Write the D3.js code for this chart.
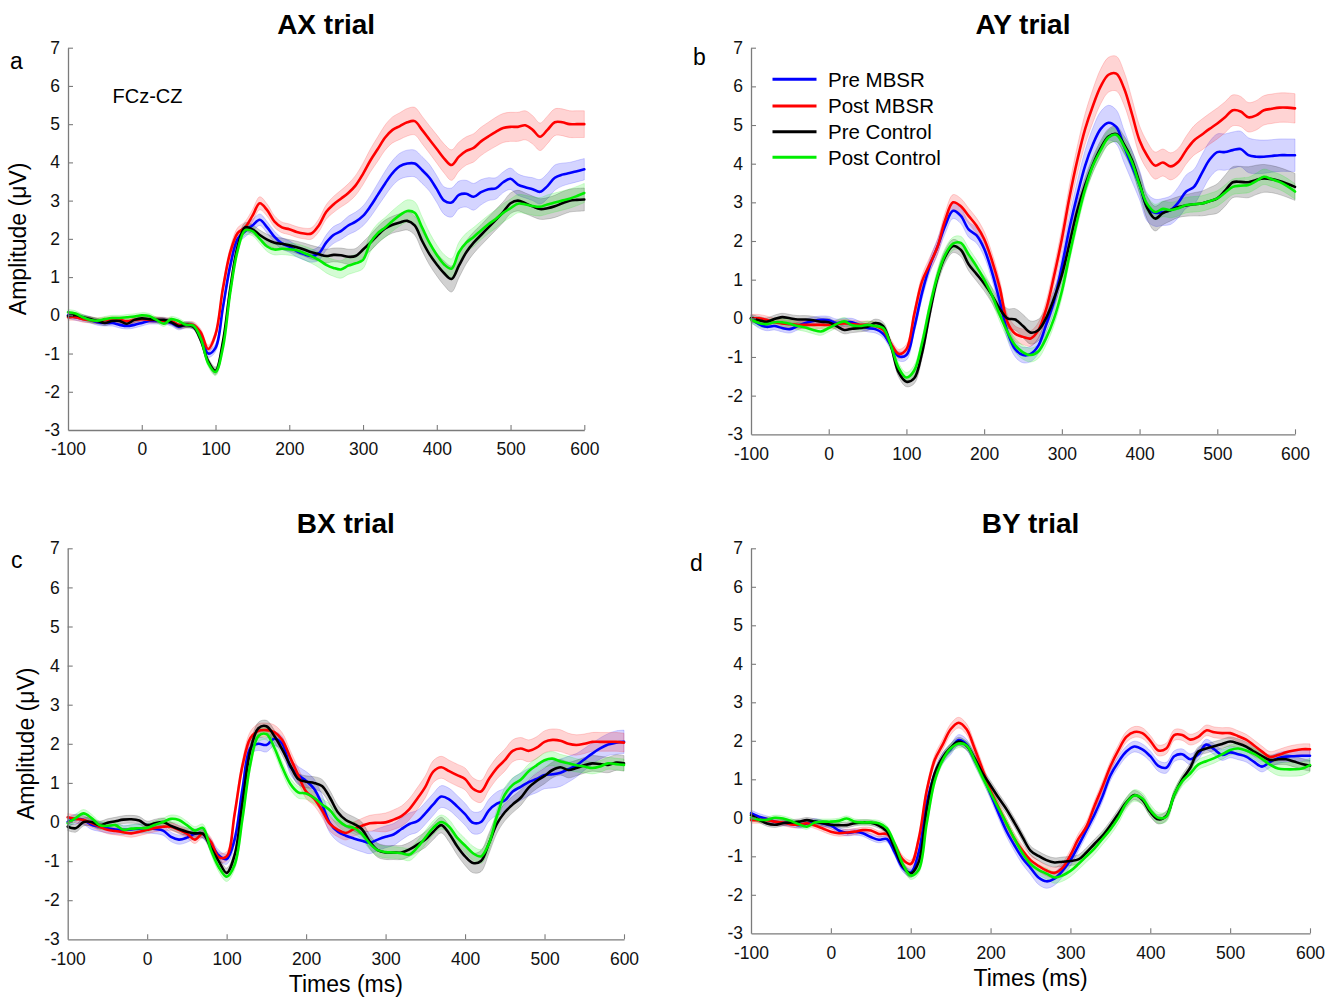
<!DOCTYPE html>
<html><head><meta charset="utf-8">
<script src="https://cdn.jsdelivr.net/npm/d3@7"></script>
<style>body{margin:0;background:#fff} svg{display:block}</style>
</head><body><svg id="chart" width="1338" height="998"></svg>
<script>
// ---------------- DATA ----------------
const times = [-100,-90,-80,-70,-60,-50,-40,-30,-20,-10,
  0,10,20,30,40,50,60,70,80,90,
  100,110,120,130,140,150,160,170,180,190,
  200,210,220,230,240,250,260,270,280,290,
  300,310,320,330,340,350,360,370,380,390,
  400,410,420,430,440,450,460,470,480,490,
  500,510,520,530,540,550,560,570,580,590,
  600];
const xTicks = [-100,0,100,200,300,400,500,600];
const yTicks = [-3,-2,-1,0,1,2,3,4,5,6,7];
const seriesNames = ["Pre MBSR","Post MBSR","Pre Control","Post Control"];
const seriesColors = ["#0000ff","#ff0000","#000000","#00ee00"];
const panelTitles = ["AX trial","AY trial","BX trial","BY trial"];
const panelLetters = ["a","b","c","d"];

// AX trial
const axPre = [0.0,-0.05,-0.08,-0.12,-0.18,-0.2,-0.2,-0.25,-0.28,-0.25,
 -0.2,-0.15,-0.15,-0.15,-0.2,-0.3,-0.25,-0.28,-0.5,-1.0,
 -0.85,0.2,1.3,2.0,2.2,2.35,2.5,2.3,2.05,1.88,
 1.8,1.68,1.6,1.55,1.62,1.9,2.1,2.2,2.35,2.45,
 2.6,2.85,3.15,3.45,3.72,3.9,3.97,3.97,3.8,3.6,
 3.3,3.0,2.95,3.15,3.18,3.1,3.22,3.3,3.32,3.48,
 3.57,3.42,3.35,3.3,3.23,3.38,3.6,3.68,3.72,3.77,
 3.82];
const axPost = [-0.05,-0.05,-0.1,-0.12,-0.15,-0.13,-0.12,-0.12,-0.15,-0.12,
 -0.1,-0.12,-0.12,-0.15,-0.15,-0.25,-0.25,-0.25,-0.45,-0.88,
 -0.5,0.7,1.65,2.15,2.3,2.6,2.93,2.75,2.45,2.3,
 2.25,2.18,2.14,2.14,2.35,2.7,2.9,3.05,3.2,3.4,
 3.7,4.05,4.35,4.65,4.85,4.95,5.05,5.08,4.85,4.6,
 4.35,4.1,3.93,4.15,4.3,4.38,4.55,4.68,4.8,4.9,
 4.93,4.93,4.97,4.85,4.67,4.85,5.05,5.05,5.0,5.0,
 5.0];
const axPreCtl = [-0.02,0.0,-0.05,-0.1,-0.15,-0.2,-0.15,-0.15,-0.22,-0.12,
 -0.08,-0.1,-0.12,-0.12,-0.18,-0.28,-0.25,-0.3,-0.65,-1.2,
 -1.45,-0.7,0.7,1.8,2.3,2.25,2.1,1.98,1.9,1.87,
 1.83,1.78,1.72,1.65,1.6,1.55,1.58,1.57,1.53,1.55,
 1.72,1.9,2.1,2.27,2.37,2.43,2.47,2.35,1.95,1.6,
 1.33,1.1,0.95,1.3,1.65,1.9,2.1,2.3,2.5,2.7,
 2.93,3.0,2.93,2.85,2.78,2.8,2.85,2.93,3.0,3.02,
 3.03];
const axPostCtl = [0.08,0.05,-0.05,-0.12,-0.14,-0.1,-0.07,-0.07,-0.05,-0.03,
 0.0,-0.02,-0.12,-0.22,-0.1,-0.15,-0.25,-0.27,-0.6,-1.25,
 -1.48,-0.85,0.6,1.7,2.22,2.2,2.0,1.8,1.72,1.74,
 1.73,1.7,1.63,1.55,1.45,1.32,1.24,1.2,1.3,1.36,
 1.45,1.9,2.15,2.3,2.47,2.62,2.73,2.68,2.3,1.9,
 1.58,1.33,1.22,1.65,1.9,2.05,2.22,2.38,2.52,2.68,
 2.8,2.92,2.9,2.86,2.84,2.9,2.95,3.0,3.05,3.12,
 3.2];
const axPreSE = [0.08,0.08,0.08,0.08,0.08,0.08,0.08,0.08,0.08,0.08,
 0.08,0.08,0.08,0.08,0.08,0.08,0.08,0.08,0.09,0.1,
 0.1,0.12,0.13,0.14,0.15,0.15,0.15,0.15,0.15,0.15,
 0.15,0.15,0.15,0.16,0.18,0.2,0.22,0.22,0.24,0.25,
 0.26,0.28,0.3,0.32,0.33,0.34,0.35,0.35,0.35,0.35,
 0.35,0.36,0.38,0.36,0.35,0.35,0.33,0.3,0.28,0.27,
 0.28,0.28,0.28,0.3,0.32,0.33,0.33,0.3,0.28,0.28,
 0.28];
const axPostSE = [0.08,0.08,0.08,0.08,0.08,0.08,0.08,0.08,0.08,0.08,
 0.08,0.08,0.08,0.08,0.08,0.08,0.08,0.08,0.09,0.1,
 0.1,0.12,0.13,0.14,0.15,0.16,0.17,0.16,0.15,0.14,
 0.14,0.14,0.14,0.15,0.17,0.19,0.21,0.22,0.24,0.26,
 0.28,0.3,0.32,0.33,0.34,0.35,0.36,0.36,0.36,0.36,
 0.37,0.38,0.4,0.38,0.37,0.37,0.37,0.37,0.38,0.38,
 0.38,0.38,0.38,0.37,0.36,0.36,0.35,0.35,0.35,0.35,
 0.35];
const axPreCtlSE = [0.07,0.07,0.07,0.07,0.07,0.07,0.07,0.07,0.07,0.07,
 0.07,0.07,0.07,0.07,0.07,0.07,0.07,0.07,0.08,0.09,
 0.1,0.1,0.1,0.11,0.12,0.12,0.13,0.14,0.15,0.15,
 0.15,0.16,0.17,0.18,0.18,0.18,0.18,0.19,0.2,0.2,
 0.2,0.21,0.22,0.22,0.22,0.23,0.24,0.25,0.26,0.28,
 0.3,0.32,0.34,0.32,0.3,0.28,0.27,0.27,0.27,0.27,
 0.27,0.27,0.27,0.27,0.27,0.28,0.29,0.3,0.3,0.3,
 0.3];
const axPostCtlSE = [0.07,0.07,0.07,0.07,0.07,0.07,0.07,0.07,0.07,0.07,
 0.07,0.07,0.07,0.07,0.07,0.07,0.07,0.07,0.08,0.09,
 0.1,0.1,0.1,0.11,0.12,0.12,0.12,0.13,0.14,0.15,
 0.16,0.17,0.18,0.19,0.2,0.21,0.22,0.23,0.23,0.23,
 0.23,0.24,0.25,0.26,0.27,0.28,0.29,0.29,0.28,0.27,
 0.26,0.26,0.26,0.26,0.25,0.25,0.24,0.24,0.24,0.24,
 0.24,0.24,0.24,0.24,0.24,0.25,0.25,0.25,0.25,0.25,
 0.25];

// AY trial
const ayPre = [0.0,-0.15,-0.22,-0.2,-0.25,-0.28,-0.2,-0.12,-0.07,-0.04,
 -0.05,-0.12,-0.1,-0.1,-0.18,-0.25,-0.28,-0.4,-0.7,-0.98,
 -0.95,-0.25,0.65,1.35,1.85,2.4,2.78,2.65,2.3,2.15,
 1.8,1.2,0.45,-0.35,-0.8,-0.95,-0.92,-0.7,-0.15,0.45,
 1.35,2.35,3.2,3.95,4.5,4.9,5.06,4.95,4.45,3.95,
 3.45,2.87,2.73,2.75,2.8,3.0,3.28,3.4,3.75,4.1,
 4.3,4.3,4.35,4.38,4.22,4.18,4.18,4.2,4.22,4.22,
 4.22];
const ayPost = [0.0,0.0,-0.04,-0.1,-0.13,-0.15,-0.17,-0.17,-0.17,-0.17,
 -0.17,-0.15,-0.13,-0.15,-0.17,-0.17,-0.2,-0.3,-0.65,-0.92,
 -0.8,0.1,0.95,1.4,1.85,2.55,3.0,2.9,2.65,2.4,
 2.05,1.5,0.8,-0.1,-0.4,-0.48,-0.52,-0.3,0.25,1.1,
 2.05,3.15,4.1,4.9,5.5,6.0,6.3,6.33,5.95,5.3,
 4.6,4.2,3.95,4.03,3.93,4.05,4.35,4.6,4.75,4.9,
 5.04,5.2,5.38,5.35,5.2,5.25,5.38,5.42,5.45,5.45,
 5.43];
const ayPreCtl = [0.0,-0.05,-0.09,-0.02,0.03,0.0,-0.03,-0.03,-0.05,-0.09,
 -0.1,-0.2,-0.3,-0.27,-0.25,-0.22,-0.12,-0.2,-0.7,-1.4,
 -1.64,-1.55,-0.9,0.13,1.05,1.6,1.87,1.77,1.4,1.15,
 0.9,0.6,0.25,0.0,-0.03,-0.2,-0.37,-0.3,0.02,0.52,
 1.12,1.95,2.8,3.45,3.98,4.4,4.7,4.77,4.5,4.1,
 3.5,2.85,2.58,2.72,2.8,2.88,2.92,2.95,2.97,3.03,
 3.1,3.3,3.52,3.53,3.52,3.58,3.62,3.6,3.55,3.48,
 3.4];
const ayPostCtl = [-0.03,-0.12,-0.15,-0.1,-0.1,-0.14,-0.2,-0.24,-0.3,-0.34,
 -0.25,-0.15,-0.08,-0.18,-0.2,-0.17,-0.2,-0.25,-0.7,-1.28,
 -1.53,-1.35,-0.65,0.3,1.1,1.65,1.93,1.95,1.65,1.35,
 1.0,0.6,0.1,-0.35,-0.7,-0.88,-0.95,-0.85,-0.5,0.0,
 0.7,1.65,2.55,3.35,3.95,4.35,4.68,4.75,4.45,4.05,
 3.45,2.95,2.75,2.83,2.8,2.85,2.93,2.95,2.97,3.03,
 3.1,3.25,3.4,3.43,3.45,3.55,3.66,3.6,3.53,3.42,
 3.28];
const ayPreSE = [0.1,0.1,0.1,0.1,0.1,0.1,0.1,0.1,0.1,0.1,
 0.1,0.1,0.1,0.1,0.1,0.1,0.1,0.1,0.11,0.12,
 0.13,0.14,0.16,0.18,0.2,0.2,0.2,0.2,0.2,0.2,
 0.2,0.2,0.2,0.2,0.2,0.2,0.2,0.2,0.22,0.25,
 0.28,0.32,0.36,0.4,0.43,0.45,0.45,0.44,0.42,0.4,
 0.38,0.36,0.35,0.35,0.37,0.4,0.43,0.45,0.47,0.47,
 0.47,0.47,0.47,0.46,0.45,0.44,0.43,0.42,0.42,0.42,
 0.42];
const ayPostSE = [0.1,0.1,0.1,0.1,0.1,0.1,0.1,0.1,0.1,0.1,
 0.1,0.1,0.1,0.1,0.1,0.1,0.1,0.1,0.11,0.12,
 0.13,0.14,0.16,0.18,0.19,0.2,0.2,0.2,0.2,0.2,
 0.2,0.2,0.2,0.2,0.2,0.2,0.2,0.2,0.22,0.25,
 0.28,0.32,0.36,0.4,0.43,0.45,0.45,0.45,0.43,0.4,
 0.38,0.36,0.35,0.35,0.35,0.35,0.36,0.38,0.4,0.4,
 0.4,0.4,0.4,0.39,0.38,0.38,0.38,0.38,0.38,0.38,
 0.38];
const ayPreCtlSE = [0.1,0.1,0.1,0.1,0.1,0.1,0.1,0.1,0.1,0.1,
 0.1,0.1,0.1,0.1,0.1,0.1,0.1,0.1,0.11,0.12,
 0.13,0.14,0.15,0.16,0.17,0.17,0.17,0.17,0.17,0.18,
 0.19,0.2,0.22,0.25,0.28,0.3,0.3,0.28,0.25,0.22,
 0.2,0.2,0.2,0.2,0.2,0.2,0.2,0.2,0.22,0.25,
 0.28,0.3,0.32,0.3,0.28,0.27,0.28,0.3,0.32,0.35,
 0.38,0.4,0.4,0.4,0.4,0.38,0.36,0.35,0.35,0.35,
 0.35];
const ayPostCtlSE = [0.1,0.1,0.1,0.1,0.1,0.1,0.1,0.1,0.1,0.1,
 0.1,0.1,0.1,0.1,0.1,0.1,0.1,0.1,0.11,0.12,
 0.13,0.14,0.15,0.16,0.17,0.17,0.17,0.17,0.17,0.17,
 0.18,0.18,0.18,0.18,0.18,0.18,0.18,0.18,0.18,0.18,
 0.18,0.18,0.18,0.18,0.18,0.18,0.18,0.18,0.19,0.2,
 0.2,0.2,0.2,0.2,0.2,0.2,0.2,0.2,0.2,0.2,
 0.2,0.2,0.2,0.2,0.2,0.2,0.2,0.2,0.2,0.2,
 0.2];

// BX trial
const bxPre = [0.0,0.08,0.05,-0.07,-0.12,-0.16,-0.19,-0.2,-0.19,-0.17,
 -0.16,-0.18,-0.22,-0.38,-0.45,-0.4,-0.3,-0.3,-0.55,-0.85,
 -0.95,-0.45,0.85,1.9,2.0,1.97,2.13,2.0,1.42,1.2,
 1.05,0.85,0.45,-0.03,-0.25,-0.35,-0.42,-0.48,-0.53,-0.45,
 -0.38,-0.32,-0.18,-0.05,0.02,0.22,0.45,0.65,0.58,0.4,
 0.2,-0.02,0.0,0.3,0.47,0.55,0.78,0.9,1.02,1.1,
 1.2,1.22,1.26,1.35,1.45,1.6,1.75,1.88,1.98,2.03,
 2.05];
const bxPost = [0.12,0.08,0.05,-0.03,-0.12,-0.2,-0.23,-0.26,-0.29,-0.25,
 -0.2,-0.15,-0.12,-0.12,-0.2,-0.3,-0.45,-0.3,-0.5,-0.9,
 -0.88,0.2,1.45,2.15,2.33,2.35,2.3,2.1,1.65,1.2,
 0.78,0.6,0.3,-0.05,-0.2,-0.28,-0.18,-0.1,-0.03,-0.02,
 -0.01,0.06,0.15,0.33,0.6,0.9,1.29,1.4,1.3,1.2,
 1.1,0.85,0.78,1.1,1.38,1.58,1.82,1.88,1.82,1.9,
 2.05,2.1,2.08,2.0,1.97,2.0,2.05,2.05,2.05,2.05,
 2.03];
const bxPreCtl = [-0.12,-0.16,0.0,0.0,-0.08,-0.02,0.02,0.06,0.07,0.04,
 -0.08,-0.03,0.0,-0.1,-0.18,-0.25,-0.29,-0.3,-0.65,-1.0,
 -1.3,-0.85,0.5,1.85,2.4,2.45,2.2,1.85,1.45,1.1,
 1.03,1.0,0.92,0.62,0.25,0.05,-0.05,-0.18,-0.5,-0.72,
 -0.78,-0.78,-0.78,-0.7,-0.58,-0.45,-0.25,-0.08,-0.3,-0.62,
 -0.88,-1.05,-1.0,-0.55,-0.05,0.25,0.45,0.62,0.88,1.05,
 1.18,1.33,1.4,1.33,1.38,1.45,1.5,1.48,1.46,1.52,
 1.5];
const bxPostCtl = [-0.03,0.1,0.22,0.1,-0.08,-0.1,-0.08,-0.2,-0.17,-0.16,
 -0.15,-0.07,0.0,0.08,0.05,-0.08,-0.22,-0.15,-0.7,-1.15,
 -1.4,-1.1,0.1,1.5,2.2,2.25,1.9,1.4,0.98,0.76,
 0.73,0.62,0.45,0.3,0.05,-0.1,-0.15,-0.3,-0.55,-0.72,
 -0.77,-0.78,-0.8,-0.83,-0.65,-0.4,-0.15,0.0,-0.12,-0.4,
 -0.6,-0.8,-0.88,-0.55,0.14,0.7,0.95,1.08,1.3,1.45,
 1.58,1.62,1.55,1.5,1.45,1.42,1.38,1.42,1.5,1.48,
 1.46];
const bxPreSE = [0.12,0.12,0.12,0.12,0.12,0.12,0.12,0.12,0.12,0.12,
 0.12,0.12,0.12,0.12,0.12,0.12,0.12,0.12,0.12,0.13,
 0.13,0.14,0.15,0.16,0.17,0.18,0.18,0.18,0.2,0.22,
 0.24,0.25,0.25,0.25,0.25,0.26,0.27,0.28,0.28,0.28,
 0.28,0.28,0.28,0.28,0.28,0.28,0.28,0.28,0.28,0.28,
 0.28,0.28,0.28,0.28,0.3,0.32,0.34,0.35,0.35,0.35,
 0.35,0.35,0.35,0.33,0.3,0.28,0.27,0.27,0.28,0.3,
 0.3];
const bxPostSE = [0.1,0.1,0.1,0.1,0.1,0.1,0.1,0.1,0.1,0.1,
 0.1,0.1,0.1,0.1,0.1,0.1,0.1,0.1,0.11,0.12,
 0.12,0.13,0.15,0.17,0.18,0.18,0.18,0.18,0.18,0.18,
 0.18,0.18,0.18,0.18,0.18,0.18,0.18,0.19,0.2,0.22,
 0.24,0.25,0.26,0.27,0.28,0.28,0.28,0.28,0.28,0.28,
 0.28,0.28,0.28,0.28,0.28,0.28,0.28,0.28,0.28,0.28,
 0.28,0.28,0.28,0.27,0.26,0.25,0.24,0.24,0.24,0.24,
 0.24];
const bxPreCtlSE = [0.1,0.1,0.1,0.1,0.1,0.1,0.1,0.1,0.1,0.1,
 0.1,0.1,0.1,0.1,0.1,0.1,0.1,0.1,0.11,0.12,
 0.12,0.12,0.13,0.14,0.15,0.15,0.15,0.15,0.15,0.15,
 0.15,0.16,0.17,0.18,0.18,0.18,0.18,0.18,0.18,0.18,
 0.18,0.18,0.18,0.18,0.19,0.2,0.2,0.2,0.21,0.22,
 0.23,0.25,0.27,0.26,0.24,0.22,0.21,0.2,0.2,0.2,
 0.2,0.2,0.2,0.2,0.2,0.2,0.2,0.2,0.2,0.2,
 0.2];
const bxPostCtlSE = [0.1,0.1,0.1,0.1,0.1,0.1,0.1,0.1,0.1,0.1,
 0.1,0.1,0.1,0.1,0.1,0.1,0.1,0.1,0.11,0.12,
 0.12,0.12,0.13,0.14,0.15,0.15,0.15,0.15,0.15,0.15,
 0.15,0.15,0.15,0.15,0.15,0.15,0.15,0.15,0.15,0.15,
 0.15,0.15,0.15,0.16,0.17,0.18,0.18,0.18,0.18,0.18,
 0.18,0.18,0.18,0.18,0.18,0.18,0.18,0.18,0.18,0.18,
 0.18,0.18,0.18,0.18,0.17,0.16,0.15,0.15,0.15,0.15,
 0.15];

// BY trial
const byPre = [0.12,0.03,-0.03,-0.1,-0.12,-0.15,-0.19,-0.15,-0.1,-0.15,
 -0.2,-0.33,-0.39,-0.37,-0.4,-0.5,-0.57,-0.55,-0.9,-1.3,
 -1.42,-0.9,0.38,1.12,1.55,1.78,2.02,1.9,1.5,1.1,
 0.62,0.12,-0.35,-0.72,-1.05,-1.3,-1.55,-1.65,-1.58,-1.38,
 -1.1,-0.72,-0.32,0.08,0.55,1.1,1.45,1.72,1.85,1.78,
 1.6,1.35,1.3,1.6,1.65,1.52,1.65,1.9,1.78,1.63,
 1.7,1.65,1.59,1.45,1.33,1.45,1.55,1.59,1.6,1.61,
 1.61];
const byPost = [-0.06,-0.06,-0.06,-0.1,-0.12,-0.17,-0.18,-0.14,-0.2,-0.28,
 -0.36,-0.4,-0.38,-0.36,-0.32,-0.33,-0.42,-0.42,-0.7,-1.08,
 -1.2,-0.55,0.7,1.5,1.9,2.3,2.47,2.3,1.8,1.25,
 0.7,0.27,-0.15,-0.55,-0.85,-1.1,-1.25,-1.37,-1.43,-1.3,
 -0.97,-0.55,-0.23,0.3,0.8,1.33,1.75,2.1,2.23,2.2,
 2.0,1.75,1.8,2.15,2.15,2.03,2.1,2.27,2.22,2.2,
 2.2,2.12,2.03,1.88,1.72,1.58,1.63,1.7,1.75,1.78,
 1.78];
const byPreCtl = [0.07,-0.05,-0.15,-0.18,-0.14,-0.12,-0.1,-0.06,-0.1,-0.14,
 -0.18,-0.19,-0.19,-0.14,-0.12,-0.13,-0.2,-0.35,-0.8,-1.25,
 -1.45,-1.15,0.2,1.15,1.57,1.82,1.98,1.87,1.55,1.15,
 0.84,0.52,0.22,-0.13,-0.5,-0.85,-0.99,-1.1,-1.16,-1.14,
 -1.12,-1.08,-0.9,-0.68,-0.47,-0.2,0.1,0.4,0.59,0.47,
 0.15,-0.04,0.05,0.6,1.0,1.3,1.72,1.8,1.86,1.92,
 1.98,1.93,1.85,1.72,1.6,1.5,1.52,1.52,1.46,1.4,
 1.35];
const byPostCtl = [0.0,-0.05,-0.05,0.0,-0.02,-0.08,-0.17,-0.23,-0.12,-0.1,
 -0.1,-0.08,-0.02,-0.1,-0.12,-0.12,-0.14,-0.27,-0.68,-1.2,
 -1.5,-1.35,-0.15,0.95,1.5,1.8,1.93,1.88,1.5,1.05,
 0.65,0.25,-0.15,-0.55,-0.92,-1.2,-1.35,-1.45,-1.55,-1.5,
 -1.38,-1.2,-1.0,-0.8,-0.55,-0.3,0.0,0.38,0.58,0.5,
 0.2,0.0,0.03,0.6,0.95,1.15,1.38,1.47,1.55,1.65,
 1.76,1.8,1.75,1.66,1.53,1.38,1.28,1.26,1.26,1.28,
 1.37];
const byPreSE = [0.08,0.08,0.08,0.08,0.08,0.08,0.08,0.08,0.08,0.08,
 0.08,0.08,0.08,0.08,0.08,0.08,0.08,0.08,0.09,0.1,
 0.1,0.11,0.12,0.13,0.14,0.14,0.14,0.14,0.14,0.14,
 0.14,0.14,0.14,0.15,0.16,0.17,0.18,0.18,0.17,0.16,
 0.15,0.14,0.14,0.14,0.14,0.14,0.14,0.14,0.14,0.14,
 0.14,0.14,0.14,0.14,0.14,0.14,0.14,0.14,0.14,0.14,
 0.14,0.14,0.14,0.14,0.14,0.14,0.14,0.14,0.14,0.14,
 0.14];
const byPostSE = [0.08,0.08,0.08,0.08,0.08,0.08,0.08,0.08,0.08,0.08,
 0.08,0.08,0.08,0.08,0.08,0.08,0.08,0.08,0.09,0.1,
 0.1,0.11,0.12,0.13,0.14,0.14,0.14,0.14,0.14,0.14,
 0.14,0.14,0.14,0.14,0.14,0.14,0.14,0.14,0.14,0.14,
 0.14,0.14,0.14,0.14,0.14,0.14,0.14,0.14,0.14,0.14,
 0.14,0.14,0.14,0.14,0.14,0.14,0.14,0.14,0.14,0.14,
 0.14,0.14,0.14,0.14,0.14,0.14,0.14,0.14,0.14,0.14,
 0.14];
const byPreCtlSE = [0.07,0.07,0.07,0.07,0.07,0.07,0.07,0.07,0.07,0.07,
 0.07,0.07,0.07,0.07,0.07,0.07,0.07,0.07,0.08,0.09,
 0.1,0.1,0.1,0.1,0.11,0.11,0.11,0.11,0.12,0.12,
 0.12,0.12,0.12,0.12,0.12,0.12,0.12,0.12,0.12,0.12,
 0.12,0.12,0.12,0.12,0.12,0.12,0.12,0.12,0.12,0.12,
 0.12,0.12,0.12,0.12,0.12,0.12,0.12,0.12,0.12,0.12,
 0.12,0.12,0.12,0.12,0.12,0.13,0.14,0.14,0.14,0.14,
 0.14];
const byPostCtlSE = [0.07,0.07,0.07,0.07,0.07,0.07,0.07,0.07,0.07,0.07,
 0.07,0.07,0.07,0.07,0.07,0.07,0.07,0.07,0.08,0.09,
 0.1,0.1,0.1,0.1,0.11,0.11,0.11,0.11,0.12,0.12,
 0.12,0.12,0.12,0.12,0.12,0.12,0.13,0.14,0.15,0.15,
 0.15,0.15,0.15,0.15,0.15,0.15,0.15,0.15,0.15,0.15,
 0.15,0.14,0.13,0.13,0.13,0.13,0.13,0.13,0.13,0.13,
 0.13,0.13,0.13,0.14,0.15,0.17,0.18,0.18,0.18,0.18,
 0.18];

// ---------------- LAYOUT ----------------
const FONT = "'Liberation Sans', Arial, Helvetica, sans-serif";
const layouts = [
  {L:68, R:584.3, T:47.7, B:430, titleY:33.5, letter:[10,69], ylab:{x:26}, xlab:null},
  {L:751, R:1295, T:47.7, B:434.3, titleY:33.5, letter:[693,65], ylab:null, xlab:null, legend:true},
  {L:67.7, R:624, T:548.3, B:939.3, titleY:533, letter:[11,568], ylab:{x:34}, xlab:{y:992}},
  {L:751, R:1310, T:548.3, B:933.3, titleY:533, letter:[690,570.5], ylab:null, xlab:{y:986}}
];
const panelMeans = [
  [axPre, axPost, axPreCtl, axPostCtl],
  [ayPre, ayPost, ayPreCtl, ayPostCtl],
  [bxPre, bxPost, bxPreCtl, bxPostCtl],
  [byPre, byPost, byPreCtl, byPostCtl]
];
const panelSE = [
  [axPreSE, axPostSE, axPreCtlSE, axPostCtlSE],
  [ayPreSE, ayPostSE, ayPreCtlSE, ayPostCtlSE],
  [bxPreSE, bxPostSE, bxPreCtlSE, bxPostCtlSE],
  [byPreSE, byPostSE, byPreCtlSE, byPostCtlSE]
];

const svg = d3.select("#chart");
svg.append("rect").attr("width",1338).attr("height",998).attr("fill","#fff");
const curve = d3.curveCatmullRom.alpha(0.5);
const AXIS_COLOR = "#7b7b7b";
const fmt = d => String(d);

layouts.forEach((lay, p) => {
  const x = d3.scaleLinear().domain([-100, 600]).range([lay.L, lay.R]);
  const y = d3.scaleLinear().domain([-3, 7]).range([lay.B, lay.T]);
  const g = svg.append("g");

  // bands
  panelMeans[p].forEach((m, s) => {
    const se = panelSE[p][s];
    const rows = times.map((t, i) => ({t, v: m[i], e: se[i]}));
    const area = d3.area().curve(curve)
      .x(d => x(d.t)).y0(d => y(d.v - d.e)).y1(d => y(d.v + d.e));
    g.append("path").datum(rows).attr("d", area)
      .attr("fill", seriesColors[s]).attr("fill-opacity", s === 2 ? 0.18 : 0.17)
      .attr("stroke", seriesColors[s]).attr("stroke-opacity", 0.28).attr("stroke-width", 0.6);
  });
  // lines
  panelMeans[p].forEach((m, s) => {
    const rows = times.map((t, i) => ({t, v: m[i]}));
    const line = d3.line().curve(curve).x(d => x(d.t)).y(d => y(d.v));
    g.append("path").datum(rows).attr("d", line)
      .attr("fill", "none").attr("stroke", seriesColors[s]).attr("stroke-width", 2.6)
      .attr("stroke-linejoin", "round").attr("stroke-linecap", "round");
  });

  // axes
  const ax = g.append("g").attr("transform", `translate(0,${lay.B})`)
    .call(d3.axisBottom(x).tickValues(xTicks).tickFormat(fmt).tickSize(-5).tickSizeOuter(0).tickPadding(13));
  const ay = g.append("g").attr("transform", `translate(${lay.L},0)`)
    .call(d3.axisLeft(y).tickValues(yTicks).tickFormat(fmt).tickSize(-5).tickSizeOuter(0).tickPadding(8));
  [ax, ay].forEach(a => {
    a.select(".domain").attr("stroke", AXIS_COLOR).attr("stroke-width", 1.3);
    a.selectAll(".tick line").attr("stroke", AXIS_COLOR).attr("stroke-width", 1.1);
    a.selectAll(".tick text").attr("fill", "#111").style("font-family", FONT).style("font-size", "17.5px");
  });
  ax.selectAll(".tick").filter(d => d === -100).select("line").remove();
  ay.selectAll(".tick").filter(d => d === -3).select("line").remove();

  // title
  svg.append("text").attr("x", (lay.L + lay.R) / 2).attr("y", lay.titleY)
    .attr("text-anchor", "middle").style("font-family", FONT).style("font-weight", "bold")
    .style("font-size", "28px").attr("fill", "#000").text(panelTitles[p]);
  // panel letter
  svg.append("text").attr("x", lay.letter[0]).attr("y", lay.letter[1])
    .style("font-family", FONT).style("font-size", "23px").attr("fill", "#000").text(panelLetters[p]);
  // y label
  if (lay.ylab) {
    svg.append("text").attr("transform", `translate(${lay.ylab.x},${(lay.T + lay.B) / 2}) rotate(-90)`)
      .attr("text-anchor", "middle").style("font-family", FONT).style("font-size", "23px")
      .attr("fill", "#000").text("Amplitude (μV)");
  }
  if (lay.xlab) {
    svg.append("text").attr("x", (lay.L + lay.R) / 2).attr("y", lay.xlab.y)
      .attr("text-anchor", "middle").style("font-family", FONT).style("font-size", "23px")
      .attr("fill", "#000").text("Times (ms)");
  }
  if (p === 0) {
    svg.append("text").attr("x", 112.5).attr("y", 102.5)
      .style("font-family", FONT).style("font-size", "20px").attr("fill", "#000").text("FCz-CZ");
  }
  if (lay.legend) {
    const rowsY = [79.3, 106, 131.7, 157.3];
    seriesNames.forEach((name, s) => {
      svg.append("line").attr("x1", 772.5).attr("x2", 816.5).attr("y1", rowsY[s]).attr("y2", rowsY[s])
        .attr("stroke", seriesColors[s]).attr("stroke-width", 3);
      svg.append("text").attr("x", 828).attr("y", rowsY[s] + 7.3)
        .style("font-family", FONT).style("font-size", "20.5px").attr("fill", "#000").text(name);
    });
  }
});
</script>
</body></html>
